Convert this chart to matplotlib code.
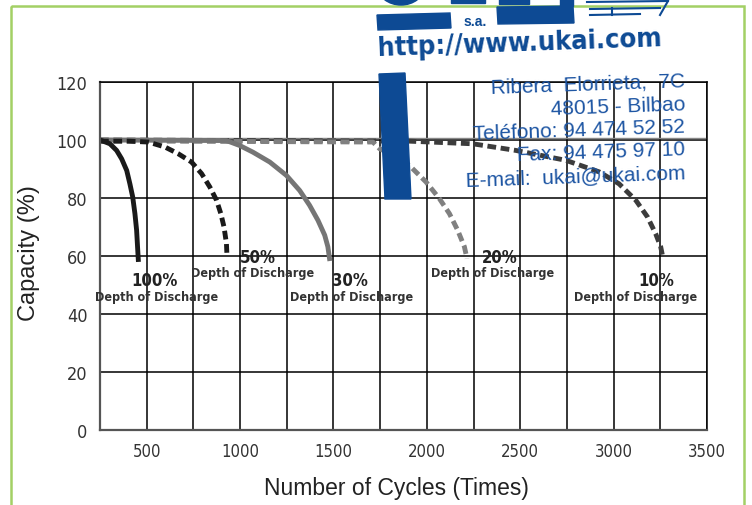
import matplotlib
matplotlib.use("Agg")
import matplotlib.pyplot as plt
from matplotlib.patches import Polygon, Rectangle, Ellipse

# curvas de ciclo de vida (ciclos, capacidad %)
dod_names = ["100%", "50%", "30%", "20%", "10%"]

cycles_100 = [250, 259, 303, 339, 366, 393, 410, 425, 437, 446, 451, 455]
cap_100 = [100, 99.8, 98.7, 96.4, 93.5, 89.5, 84.9, 80.4, 74.6, 68.9, 63.2, 58.8]

cycles_50 = [250, 401, 508, 597, 668, 740, 794, 838, 874, 897, 914, 927, 930]
cap_50 = [99.6, 99.6, 99.3, 97.6, 95.3, 92.4, 88.4, 83.8, 79.2, 74.6, 70, 64.3, 59.7]

cycles_30 = [250, 927, 998, 1069, 1159, 1248, 1319, 1372, 1417, 1453, 1470, 1479]
cap_30 = [100, 99.8, 98.1, 95.8, 92.4, 87.8, 82.6, 77.5, 72.3, 67.2, 63.2, 59.1]

cycles_20 = [250, 1711, 1747, 1830, 1907, 1996, 2067, 2121, 2165, 2201, 2215]
cap_20 = [99.7, 99.3, 97, 94.5, 91.2, 85.5, 79.8, 74.6, 68.9, 63.2, 59.1]

cycles_10 = [250, 1907, 2245, 2477, 2744, 2923, 3029, 3119, 3181, 3225, 3252, 3261]
cap_10 = [100, 99.6, 98.7, 96.4, 93, 89, 84.9, 79.2, 73.5, 67.7, 63.2, 60.3]

x_ticks = [500, 1000, 1500, 2000, 2500, 3000, 3500]
y_ticks = [0, 20, 40, 60, 80, 100, 120]

address = ["Ribera  Elorrieta,  7C", "48015 - Bilbao", "Teléfono: 94 474 52 52",
           "Fax: 94 475 97 10", "E-mail:  ukai@ukai.com"]

ARIAL = ["Liberation Sans", "DejaVu Sans"]
BLUE = "#0d4a94"
narrow = dict(family="DejaVu Sans", stretch="condensed")

fig = plt.figure(figsize=(7.52, 5.06), dpi=100)
ax = fig.add_axes([100 / 752, 75 / 506, 607 / 752, 348 / 506])
ax.set_zorder(1)

ax.set_xlim(250, 3500)
ax.set_ylim(0, 120)
ax.set_xticks(x_ticks)
ax.set_xticks(range(250, 3501, 250), minor=True)
ax.set_yticks(y_ticks)
ax.grid(which="both", color="black", lw=1.1)
ax.axhline(100.8, color="#888888", lw=1.0)
ax.tick_params(which="both", length=0)
ax.tick_params(axis="x", pad=9, labelsize=12, labelcolor="#333333")
ax.tick_params(axis="y", pad=9, labelsize=13, labelcolor="#333333")
for lab in ax.get_xticklabels() + ax.get_yticklabels():
    lab.set_family(narrow["family"])
    lab.set_stretch(narrow["stretch"])
for s in ["top", "right"]:
    ax.spines[s].set_color("black")
    ax.spines[s].set_linewidth(1.1)
for s in ["left", "bottom"]:
    ax.spines[s].set_color("#555555")
    ax.spines[s].set_linewidth(1.6)
ax.set_axisbelow(True)

dash = (0, (1.8, 0.95))
ax.plot(cycles_10, cap_10, color="#3c3c3c", lw=3.5, ls=dash)
ax.plot(cycles_20, cap_20, color="#808080", lw=3.5, ls=dash)
ax.plot(cycles_30, cap_30, color="#757575", lw=3.5, solid_joinstyle="round")
ax.plot(cycles_50, cap_50, color="#1a1a1a", lw=3.5, ls=dash)
ax.plot(cycles_100, cap_100, color="#1a1a1a", lw=3.5, solid_joinstyle="round")

# etiquetas de profundidad de descarga
pct_pos = [(544, 51.6), (1094, 59.8), (1586, 51.6), (2388, 59.8), (3227, 51.6)]
txt_pos = [(555, 46.1), (1068, 54.3), (1597, 46.1), (2350, 54.3), (3120, 46.1)]
for name, (px, py), (tx, ty) in zip(dod_names, pct_pos, txt_pos):
    ax.text(px, py, name, ha="center", va="center", fontsize=12,
            fontweight="bold", color="#222222", **narrow)
    ax.text(tx, ty, "Depth of Discharge", ha="center", va="center", fontsize=9,
            fontweight="bold", color="#333333", **narrow)

ax.set_xlabel("Number of Cycles (Times)", fontsize=16.5, color="#222222", family=ARIAL)
ax.xaxis.set_label_coords(0.489, -0.132)
ax.set_ylabel("Capacity (%)", fontsize=17, color="#222222", family=ARIAL)
ax.yaxis.set_label_coords(-0.099, 0.51)

# capa de decoracion en pixeles (logo, marco verde, direccion)
ov = fig.add_axes([0, 0, 1, 1])
ov.set_zorder(3)
ov.set_xlim(0, 752)
ov.set_ylim(506, 0)
ov.axis("off")
ov.patch.set_alpha(0)

ov.add_patch(Rectangle((11, 7), 733, 520, fill=False, ec="#a3d065", lw=1.8))

ov.add_patch(Ellipse((401, -12), 46, 36, color=BLUE))
ov.add_patch(Rectangle((451, 0), 34, 4, color=BLUE))
ov.add_patch(Rectangle((499, 0), 30, 5, color=BLUE))
ov.add_patch(Polygon([(377, 16), (450, 14), (451, 29), (378, 31)], color=BLUE))
ov.add_patch(Polygon([(497, 8), (573, 7), (574, 24), (498, 25)], color=BLUE))
ov.add_patch(Rectangle((560, 0), 13, 7, color=BLUE))
ov.plot([587, 668], [3, 2], color=BLUE, lw=1.5)
ov.plot([590, 660], [10, 9], color=BLUE, lw=1.5)
ov.plot([668, 660], [2, 16], color=BLUE, lw=1.5)
ov.plot([590, 640], [16, 15], color=BLUE, lw=1.5)
ov.plot([612, 612], [9, 16], color=BLUE, lw=1.5)
ov.text(475, 22, "s.a.", ha="center", va="center", fontsize=10,
        fontweight="bold", color=BLUE, family=ARIAL)
ov.text(378, 49, "http://www.ukai.com", ha="left", va="center", fontsize=19.5,
        fontweight="bold", color=BLUE, rotation=2, rotation_mode="anchor", **narrow)
ov.add_patch(Polygon([(379, 75), (405, 74), (411, 200), (385, 200)], color=BLUE))

addr_y = [81, 105, 127, 150, 174]
for line, yy in zip(address, addr_y):
    ov.text(685, yy, line, ha="right", va="center", fontsize=15,
            color="#1d55a3", family=ARIAL, rotation=2, rotation_mode="anchor")

fig.savefig("out.png", dpi=100)
